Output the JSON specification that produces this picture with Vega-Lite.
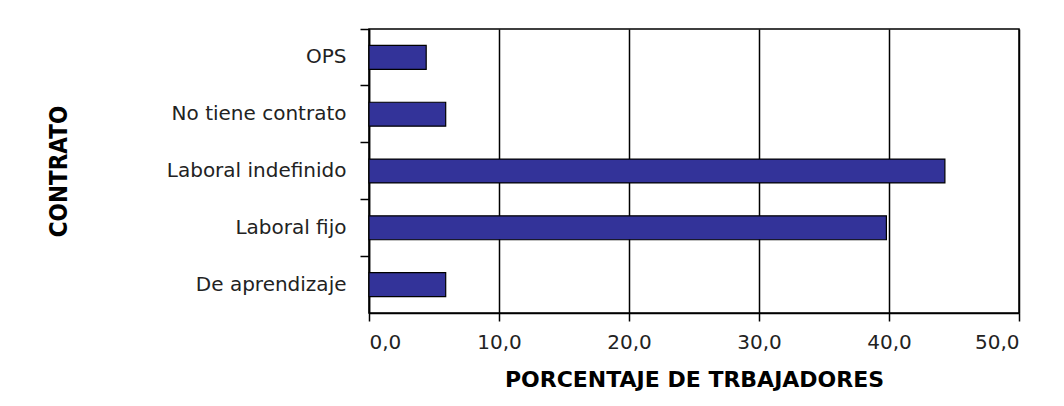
{
  "$schema": "https://vega.github.io/schema/vega-lite/v6.json",
  "width": 650,
  "height": 284,
  "autosize": {"type": "none"},
  "padding": {"left": 369, "top": 29, "right": 45, "bottom": 93},
  "background": "white",
  "data": {
    "values": [
      {"contrato": "OPS", "porcentaje": 4.4},
      {"contrato": "No tiene contrato", "porcentaje": 5.9},
      {"contrato": "Laboral indefinido", "porcentaje": 44.3},
      {"contrato": "Laboral fijo", "porcentaje": 39.8},
      {"contrato": "De aprendizaje", "porcentaje": 5.9}
    ]
  },
  "mark": {"type": "bar", "fill": "#333399", "stroke": "#000000", "strokeWidth": 1.2},
  "encoding": {
    "y": {
      "field": "contrato",
      "type": "nominal",
      "sort": ["OPS", "No tiene contrato", "Laboral indefinido", "Laboral fijo", "De aprendizaje"],
      "scale": {"paddingInner": 0.58, "paddingOuter": 0.29},
      "axis": {
        "title": "CONTRATO",
        "titleFont": "'DejaVu Sans Condensed', 'Liberation Sans', sans-serif",
        "titleFontWeight": "bold",
        "titleFontSize": 24,
        "titleColor": "#000000",
        "titleAngle": -90,
        "titleX": -310,
        "titleY": 142,
        "titleAlign": "center",
        "titleBaseline": "middle",
        "labelFont": "DejaVu Sans",
        "labelFontSize": 20,
        "labelColor": "#222222",
        "labelPadding": 14,
        "labelLimit": 400,
        "bandPosition": -0.69,
        "ticks": true,
        "tickSize": 9,
        "tickColor": "#000000",
        "tickWidth": 1.5,
        "domainColor": "#000000",
        "domainWidth": 1.5,
        "grid": false
      }
    },
    "x": {
      "field": "porcentaje",
      "type": "quantitative",
      "scale": {"domain": [0, 50], "nice": false},
      "axis": {
        "title": "PORCENTAJE DE TRBAJADORES",
        "titleFont": "DejaVu Sans",
        "titleFontWeight": "bold",
        "titleFontSize": 22,
        "titleColor": "#000000",
        "titlePadding": 17,
        "values": [0, 10, 20, 30, 40, 50],
        "labelExpr": "replace(format(datum.value, '.1f'), '.', ',')",
        "labelFont": "DejaVu Sans",
        "labelFontSize": 20,
        "labelColor": "#222222",
        "labelPadding": 11,
        "tickSize": 8,
        "tickColor": "#000000",
        "tickWidth": 1.5,
        "domainColor": "#000000",
        "domainWidth": 1.5,
        "grid": true,
        "gridColor": "#000000",
        "gridWidth": 1.5,
        "gridOpacity": 1
      }
    }
  },
  "config": {
    "view": {"stroke": "#000000", "strokeWidth": 1.5}
  }
}
